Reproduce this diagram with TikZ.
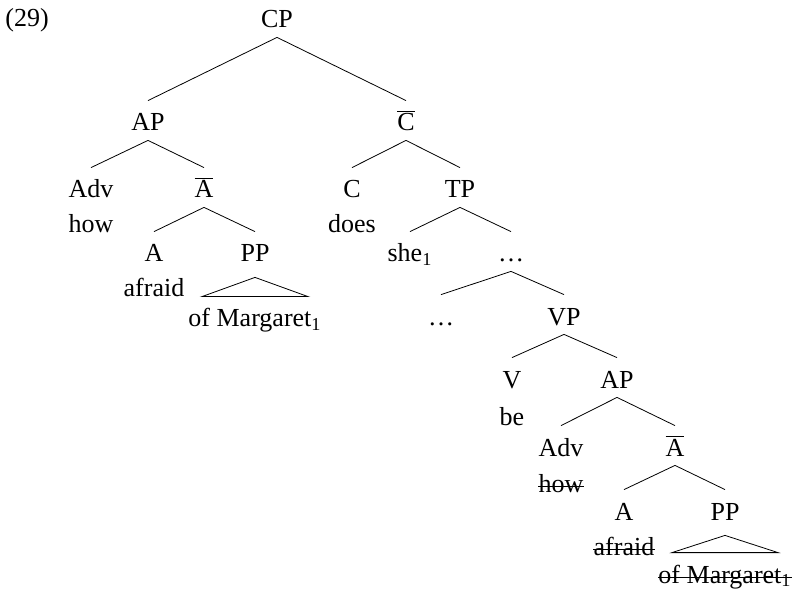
\documentclass[tikz,border=0pt]{standalone}
\usepackage{fontspec}
\setmainfont{Liberation Serif}
\usetikzlibrary{positioning}

\begin{document}
\begin{tikzpicture}[x=0.5pt,y=-0.5pt,on grid,font=\fontsize{13}{15}\selectfont,
    cat/.style={anchor=base, inner sep=0pt, text height=15pt, text depth=4.5pt}]
   \useasboundingbox (0,0) rectangle (795,592);
   \node[anchor=base west, inner sep=0pt] (ex) at (5,27) {(29)};

   % left part of the tree
   \node[cat] (cp)    at (277,28)  {CP};
   \node[cat] (ap)    at (148,131) {AP};
   \node[cat] (cbar)  at (406,131) {$\overline{\mbox{C}}$};
   \node[cat] (adv)   at (91,198)  {Adv};
   \node[cat] (abar)  at (204,198) {$\overline{\mbox{A}}$};
   \node[cat] (how)   [below=17.5pt of adv] {how};
   \node[cat] (a)     at (154,262) {A};
   \node[cat] (pp)    at (255,262) {PP};
   \node[cat] (afraid) [below=17.5pt of a] {afraid};
   \node[cat] (om)    at (255,327) {of Margaret\textsubscript{1}};

   % right part of the tree
   \node[cat] (c)     at (352,198) {C};
   \node[cat] (tp)    at (460,198) {TP};
   \node[cat] (does)  [below=17.5pt of c] {does};
   \node[cat] (she)   at (410,262) {she\textsubscript{1}};
   \node[cat] (dots)  at (511,262) {\ldots};
   \node[cat] (ldots) at (441,325) {\ldots};
   \node[cat] (vp)    at (564,325) {VP};
   \node[cat] (v)     at (512,388) {V};
   \node[cat] (ap_2)  at (617,388) {AP};
   \node[cat] (be)    [below=18.5pt of v] {be};
   \node[cat] (adv_2) at (561,456) {Adv};
   \node[cat] (abar_2) at (675,456) {$\overline{\mbox{A}}$};
   \node[cat] (how_2) [below=18pt of adv_2] {how};
   \node[cat] (a_2)   at (624,520) {A};
   \node[cat] (pp_2)  at (725,520) {PP};
   \node[cat] (afraid_2) [below=17.5pt of a_2] {afraid};
   \node[cat] (om_2)  at (725,583) {of Margaret\textsubscript{1}};

    \path
    (cp.south)     edge (ap.north)
                   edge (cbar.north)
    (ap.south)     edge (adv.north)
                   edge (abar.north)
    (abar.south)   edge (a.north)
                   edge (pp.north)
    (cbar.south)   edge (c.north)
                   edge (tp.north)
    (tp.south)     edge (she.north)
                   edge (dots.north)
    (dots.south)   edge (ldots.north)
                   edge (vp.north)
    (vp.south)     edge (v.north)
                   edge (ap_2.north)
    (ap_2.south)   edge (adv_2.north)
                   edge (abar_2.north)
    (abar_2.south) edge (a_2.north)
                   edge (pp_2.north);

   % triangles over the PPs
   \draw ([yshift=-3pt]pp.south) -- ([xshift=-26.5pt]om.north)
         -- ([xshift=26.5pt]om.north) -- cycle;
   \draw ([yshift=-3pt]pp_2.south) -- ([xshift=-26.5pt]om_2.north)
         -- ([xshift=26.5pt]om_2.north) -- cycle;

   % struck-out copies
   \foreach \n in {how_2, afraid_2, om_2}
     \draw ([yshift=3pt]\n.base west) -- ([yshift=3pt]\n.base east);
\end{tikzpicture}
\end{document}
